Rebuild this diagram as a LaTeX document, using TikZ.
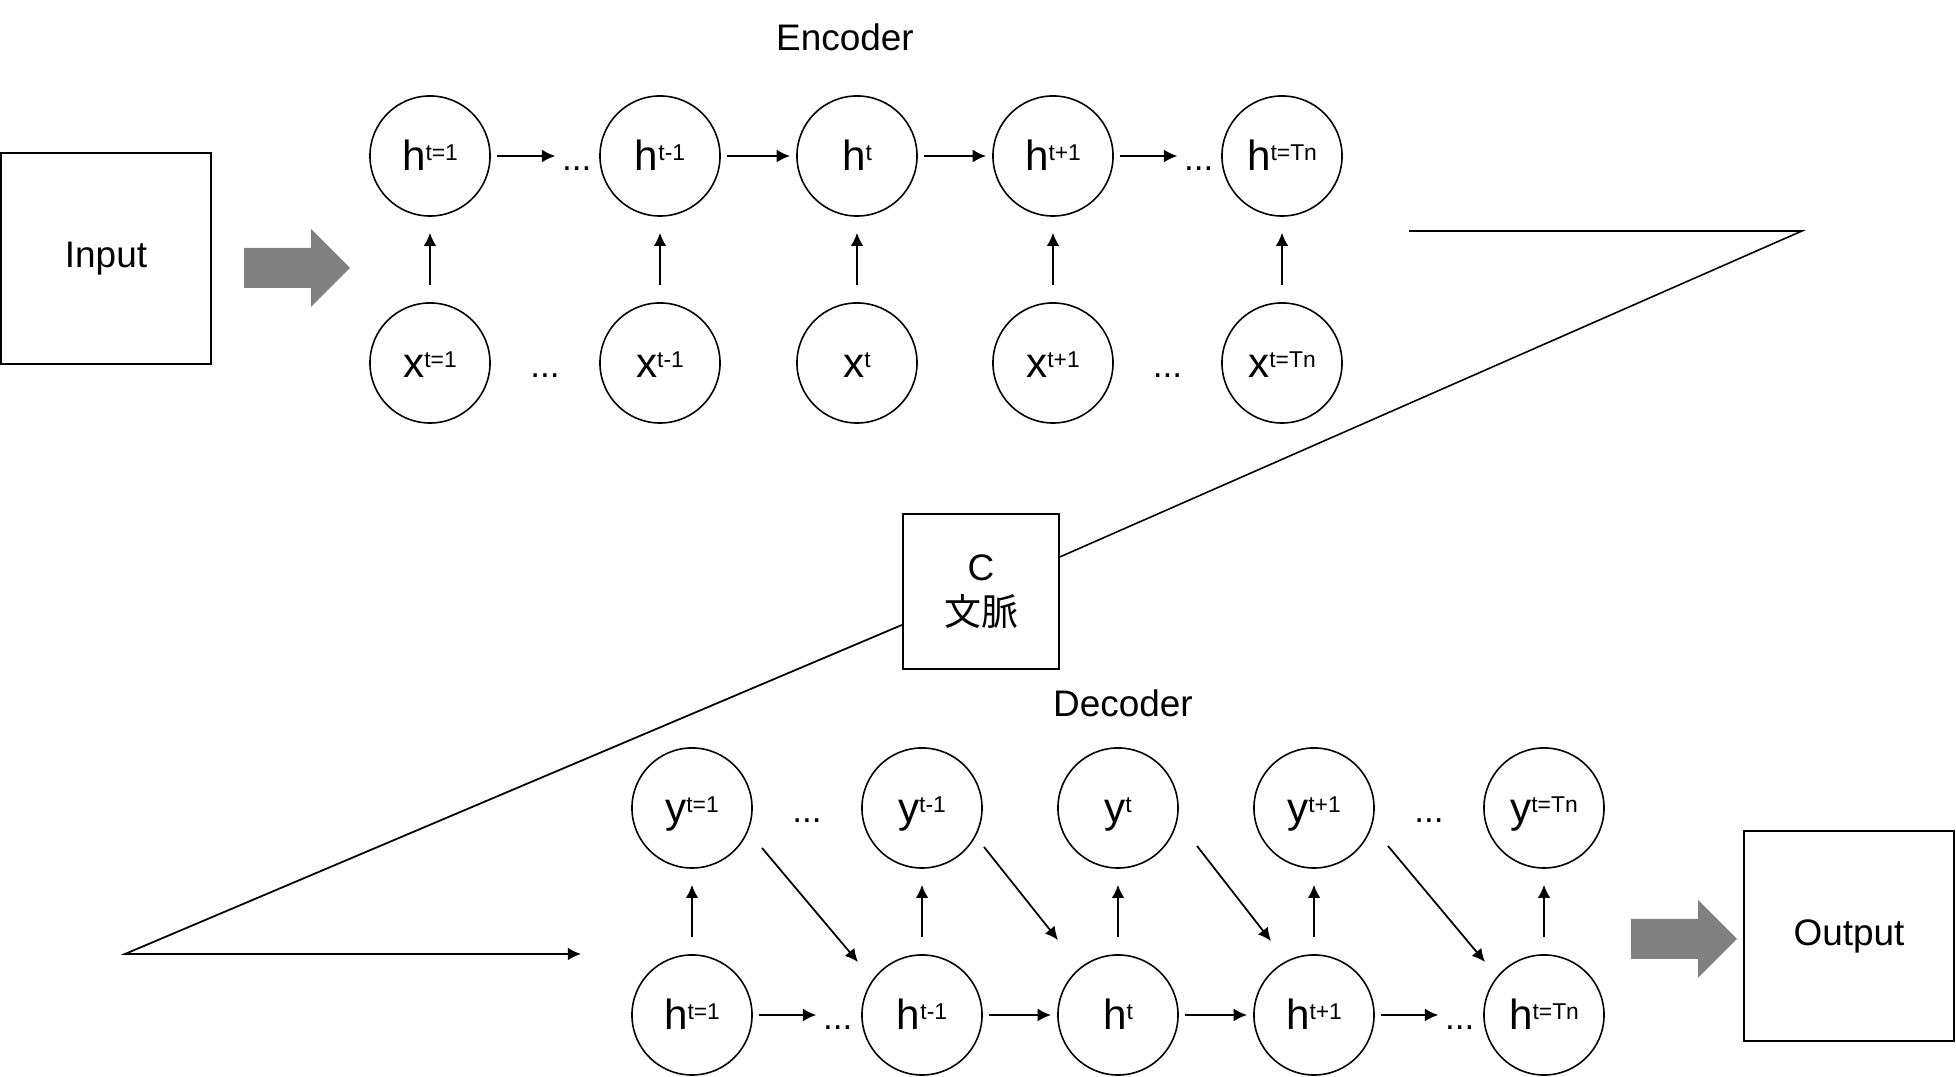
\documentclass[tikz,border=0pt]{standalone}
\usepackage{fontspec}
\setmainfont{Liberation Sans}
\newfontfamily\jpfont{Noto Sans CJK JP}
\usetikzlibrary{calc,positioning,arrows.meta}
\newcommand*\sups[1]{\raisebox{2.8pt}{\fontsize{6.5}{7.5}\selectfont#1}}
\newcommand*\bulkArrow[1]{%
    \fill[seq/bulk,shift={#1}] (0,-20) -- (67,-20) -- (67,-39) -- (106,0)
        -- (67,39) -- (67,20) -- (0,20) -- cycle;
}
\tikzset{seq/.cd,
         state/.style={draw,circle,line width=0.45pt,minimum size=1.2cm,inner sep=0pt,
                       font=\fontsize{12}{14}\selectfont,text height=8pt,text depth=0pt},
         frame/.style={draw,rectangle,line width=0.6pt,inner sep=0pt,align=center,
                       font=\fontsize{10.5}{12.8}\selectfont},
         caption/.style={inner sep=0pt,font=\fontsize{10.5}{12.8}\selectfont},
         dots/.style={inner sep=0pt,font=\fontsize{10}{12}\selectfont,text height=8pt,text depth=0pt},
         flow/.style={-{Latex[length=1.35mm,width=1.3mm]},line width=0.65pt,
                      shorten <=0.06cm,shorten >=0.06cm},
         feed/.style={-{Latex[length=1.3mm,width=1.25mm]},line width=0.5pt},
         rise/.style={seq/feed,shorten <=0.17cm,shorten >=0.16cm},
         bulk/.style={fill=gray}}

\begin{document}
\begin{tikzpicture}[x=0.01cm,y=-0.01cm]
\useasboundingbox (0,0) rectangle (1956,1077);

\node[seq/frame,minimum width=2.1cm,minimum height=2.11cm] (input) at (106,258.5) {Input};
\node[seq/frame,minimum width=2.1cm,minimum height=2.1cm] (output) at (1849,936) {Output};
\bulkArrow{(244,268)}
\bulkArrow{(1631,939)}

\node[seq/caption] (enc) at (845,37) {Encoder};
\foreach \n/\x/\s in {1/430/{t=1},2/660/{t-1},3/857/{t},4/1053/{t+1},5/1282/{t=Tn}}{
    \node[seq/state] (eh\n) at (\x,156) {h\sups{\s}};
    \node[seq/state] (ex\n) at (\x,363) {x\sups{\s}};
    \draw[seq/rise] (ex\n) -- (eh\n);
}
\node[seq/dots,left=0.07cm of eh2] (ehd1) {...};
\node[seq/dots,left=0.07cm of eh5] (ehd2) {...};
\node[seq/dots] (exd1) at ($(ex1)!0.5!(ex2)$) {...};
\node[seq/dots] (exd2) at ($(ex4)!0.5!(ex5)$) {...};
\draw[seq/flow] (eh1) -- (ehd1);
\draw[seq/flow] (eh2) -- (eh3);
\draw[seq/flow] (eh3) -- (eh4);
\draw[seq/flow] (eh4) -- (ehd2);

\node[seq/caption] (dec) at (1123,703) {Decoder};
\foreach \n/\x/\s in {1/692/{t=1},2/922/{t-1},3/1118/{t},4/1314/{t+1},5/1544/{t=Tn}}{
    \node[seq/state] (dy\n) at (\x,808) {y\sups{\s}};
    \node[seq/state] (dh\n) at (\x,1015) {h\sups{\s}};
    \draw[seq/rise] (dh\n) -- (dy\n);
}
\node[seq/dots,left=0.08cm of dh2] (dhd1) {...};
\node[seq/dots,left=0.08cm of dh5] (dhd2) {...};
\node[seq/dots] (dyd1) at ($(dy1)!0.5!(dy2)$) {...};
\node[seq/dots] (dyd2) at ($(dy4)!0.5!(dy5)$) {...};
\draw[seq/flow] (dh1) -- (dhd1);
\draw[seq/flow] (dh2) -- (dh3);
\draw[seq/flow] (dh3) -- (dh4);
\draw[seq/flow] (dh4) -- (dhd2);
\foreach \a/\b/\sx/\sy/\ex/\ey in {1/2/70/40/-64/-53,2/3/62/39/-60/-75,
                                   3/4/79/38/-43/-74,4/5/74/38/-59/-53}{
    \draw[seq/feed] ($(dy\a)+(\sx,\sy)$) -- ($(dh\b)+(\ex,\ey)$);
}

\node[seq/frame,fill=white,minimum width=1.56cm,minimum height=1.55cm] (ctx) at (981,591.5) {C\\{\jpfont 文脈}};
\coordinate (encOut) at (1409,231);
\coordinate (encTurn) at (1802,231);
\coordinate (decTurn) at (125,954);
\coordinate (decIn) at (581,954);
\draw[line width=0.45pt] (encOut) -- (encTurn) -- (ctx);
\draw[seq/feed] (ctx) -- (decTurn) -- (decIn);
\end{tikzpicture}
\end{document}
